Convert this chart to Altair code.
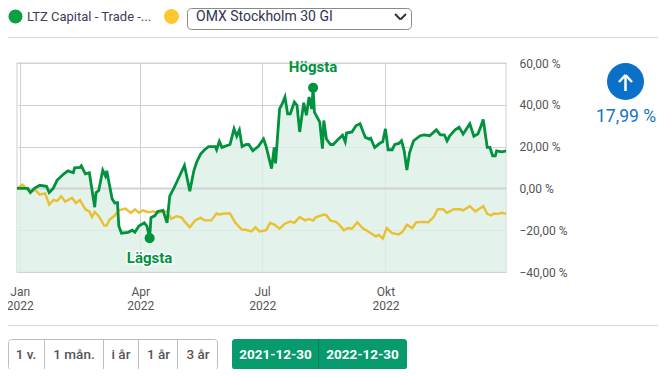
import altair as alt
import pandas as pd

# Day offsets from 2021-12-30 and percentage values
green_days = [0,8,10,13,17,22,24,27,30,35,38,42,43,47,48,51,54,58,59,61,64,66,67,71,73,75,76,78,83,86,88,91,95,97,99,100,103,105,109,112,114,117,119,125,129,132,134,137,140,143,148,149,151,153,159,162,164,166,168,171,173,
              174,176,180,184,186,190,192,193,196,198,200,202,204,207,209,211,214,216,218,220,221,222,226,228,229,231,234,236,240,243,245,246,250,253,256,260,263,264,267,271,273,275,277,280,282,285,287,289,291,293,296,301,304,308,313,316,319,321,323,327,330,333,338,341,344,346,348,351,353,355,357,358,362,365]
green_vals = [0,0,-2,0,1.5,1,-2,0,4,7,8.4,7.5,9.8,10,10.8,7,7.5,-9,-2,-1,8.7,6,8.4,-5,-7,-6.8,-18,-21.4,-21,-20,-21,-18,-16.5,-18,-23.8,-14,-13,-11,-10.5,-16.5,-3.7,0,2.7,11,-1.3,8.4,12.4,16.4,18.5,20,20,18.5,22.5,19.6,21,28.5,25,28,20,21,21,
              20,18,20,23.6,20,9.5,19.6,12,38,40.5,43.7,35.7,35.7,41.3,39.7,27,41,35,43.7,38,48.2,36.5,31.7,19,32.5,23.6,21,21,23.6,25.5,22.3,26.5,27,30,31,24.4,23.6,24,19.6,21.7,22.3,28.5,18.5,18.5,21,21.5,22.8,18,8.8,17,22.8,25.2,25.6,25.2,28,25.6,25.6,22.8,25.2,28,29.3,26,30.9,25,26,29.3,33,19.6,19.6,15.6,15.6,18,17.5,17.99]
yellow_days = [0,4,7,10,13,17,21,24,27,30,33,36,41,44,47,51,54,56,58,61,65,67,69,73,76,81,85,88,91,94,98,102,105,112,115,119,123,125,129,133,137,140,145,149,151,155,159,163,168,171,175,178,
               181,186,189,192,196,200,204,207,211,215,218,221,223,229,231,234,238,241,244,247,250,254,258,263,268,270,273,276,280,285,288,291,295,298,303,307,311,314,318,321,326,331,333,338,342,348,351,354,356,359,362,365]
yellow_vals = [0,1.8,0,-2,-0.5,-3,-2.4,-7.7,-5.6,-6,-3.7,-6.4,-4.5,-7,-5.6,-10,-11,-13.7,-11.3,-13.3,-17.7,-17.8,-15,-12.9,-10.5,-9.6,-11.7,-10,-11.7,-10.5,-11.4,-11,-11.7,-11,-14.6,-13.3,-14,-15.8,-18.6,-15.3,-14,-15.3,-15.3,-12,-12.5,-12,-12,-16.5,-19.8,-19.8,-20.6,-18.6,
               -20.6,-20,-16.5,-17.3,-19.3,-16.9,-15.8,-16.5,-13.7,-15.3,-14.6,-15.4,-13.8,-12.5,-12.9,-15.4,-16,-17.7,-20,-19,-19.3,-16.2,-19,-21,-23,-22.2,-24,-19,-21.4,-22,-20.6,-17.4,-19,-16.2,-16,-16.2,-13.7,-10,-10,-11.7,-10,-10,-10.5,-8.5,-11,-8.5,-12.2,-12.9,-12,-12.2,-11.7,-12.2]
extreme_labels = ["Lägsta", "Högsta"]
extreme_days = [99, 221]
extreme_vals = [-23.8, 48.2]
y_ticks = [-40, -20, 0, 20, 40, 60]
ranges = [("1 v.", 26), ("1 mån.", 74), ("i år", 121), ("1 år", 158.5), ("3 år", 198)]

start = pd.Timestamp("2021-12-30")
iso = lambda d: (start + pd.Timedelta(days=d)).strftime("%Y-%m-%d")
green = pd.DataFrame({"date": [iso(d) for d in green_days], "v": green_vals})
yellow = pd.DataFrame({"date": [iso(d) for d in yellow_days], "v": yellow_vals})
extremes = pd.DataFrame({"date": [iso(d) for d in extreme_days], "v": extreme_vals, "label": extreme_labels})

PAD_L, PAD_T, W, H = 9, 55, 489, 209
FONT = "Roboto"
GREEN, YELLOW = "#00923f", "#e8c031"
GREY = "#555555"

def dt(y, m, d):
    return alt.DateTime(year=y, month=m, date=d, utc=True)

xscale = alt.Scale(type="utc", domain=[dt(2021, 12, 30), dt(2022, 12, 30)])
yscale = alt.Scale(domain=[-40, 60], nice=False)
xaxis = alt.Axis(
    values=[dt(2022, 1, 1), dt(2022, 4, 1), dt(2022, 7, 1), dt(2022, 10, 1)],
    title=None, grid=True, gridColor="#d2d2d2", domain=False, ticks=False,
    labelExpr="[{0:'Jan',3:'Apr',6:'Jul',9:'Okt'}[utcmonth(datum.value)], '2022']",
    labelFont=FONT, labelFontSize=12, labelColor=GREY, labelPadding=14,
    labelLineHeight=14, labelBaseline="top", labelAlign="center", labelFlush=False, labelOverlap=False,
)
yaxis = alt.Axis(
    orient="right", values=y_ticks, title=None, grid=True, gridColor="#d2d2d2", domain=False, ticks=False,
    labelExpr="replace(format(datum.value,'.2f'),'.',',')+' %'",
    labelFont=FONT, labelFontSize=12, labelColor=GREY, labelPadding=13, labelAlign="left",
)

X = alt.X("date:T", scale=xscale, axis=xaxis)
Y = alt.Y("v:Q", scale=yscale, axis=yaxis)

blank = alt.Data(values=[{"a": 1}])
def px(v): return alt.value(v - 8 - PAD_L)
def py(v): return alt.value(v - 8 - PAD_T)
def rect(x1, y1, x2, y2, fill="transparent", stroke=None, radius=0, sw=1):
    kw = dict(fill=fill, cornerRadius=radius)
    if stroke:
        kw.update(stroke=stroke, strokeWidth=sw)
    return alt.Chart(blank).mark_rect(**kw).encode(x=px(x1), x2=px(x2), y=py(y1), y2=py(y2))
def seg(x1, y1, x2, y2, color, sw=1, cap="butt"):
    return alt.Chart(blank).mark_rule(color=color, strokeWidth=sw, strokeCap=cap).encode(x=px(x1), x2=px(x2), y=py(y1), y2=py(y2))
def text(s, x, y, size=13, color=GREY, align="center", weight="normal"):
    return alt.Chart(blank).mark_text(font=FONT, fontSize=size, color=color, align=align, baseline="middle", fontWeight=weight).encode(x=px(x), y=py(y), text=alt.value(s))
def dot(x, y, d, color):
    return alt.Chart(blank).mark_circle(size=d * d, color=color, opacity=1).encode(x=px(x), y=py(y))

area = alt.Chart(green).mark_area(fill="#dcefe5", opacity=0.8).encode(x=X, y=Y, y2=alt.datum(-40))
zero = alt.Chart(pd.DataFrame({"v": [0]})).mark_rule(color="#d2d2d2", strokeWidth=2).encode(y=Y)
yellow_line = alt.Chart(yellow).mark_line(color=YELLOW, strokeWidth=2.4).encode(x=X, y=Y)
green_line = alt.Chart(green).mark_line(color=GREEN, strokeWidth=2.8).encode(x=X, y=Y)
points = alt.Chart(extremes).mark_circle(size=100, color=GREEN, opacity=1).encode(x=X, y=Y)
low = extremes[extremes.label == "Lägsta"]
high = extremes[extremes.label == "Högsta"]
label_kw = dict(font=FONT, fontSize=15, fontWeight="bold", color=GREEN)
low_halo = alt.Chart(low).mark_text(dy=20, stroke="white", strokeWidth=3, **label_kw).encode(x=X, y=Y, text="label:N")
low_text = alt.Chart(low).mark_text(dy=20, **label_kw).encode(x=X, y=Y, text="label:N")
high_text = alt.Chart(high).mark_text(dy=-21, **label_kw).encode(x=X, y=Y, text="label:N")

chrome = [
    seg(0, 37.5, 666, 37.5, "#d8d8d8"), seg(0, 325.5, 666, 325.5, "#d8d8d8"),
    dot(15.5, 16.5, 14, "#0a9f43"),
    text("LTZ Capital - Trade -...", 27, 16.5, 13, "#3c4058", "left"),
    dot(171.5, 16.5, 15, "#ffc62f"),
    rect(187.5, 8.5, 411.5, 29.5, "white", "#8a8a8a", 4),
    text("OMX Stockholm 30 GI", 196, 16.5, 14, "#2f3350", "left"),
    seg(395, 14, 400.5, 19.5, "#333333", 2), seg(400.5, 19.5, 406, 14, "#333333", 2),
    dot(625.5, 81.5, 37, "#0a70c8"),
    seg(625.5, 75, 625.5, 91, "white", 2.5), seg(619, 82, 625.5, 75, "white", 2.5), seg(632, 82, 625.5, 75, "white", 2.5),
    text("17,99 %", 626, 116.5, 17.5, "#1272c4"),
    rect(8.5, 339.5, 217.5, 369.5, "white", "#bdbdbd", 3),
]
for xv in (44.5, 103.5, 138.5, 177.5):
    chrome.append(seg(xv, 339.5, xv, 369.5, "#bdbdbd"))
for label, xv in ranges:
    chrome.append(text(label, xv, 354.5, 13.5, "#555555", weight=500))
chrome += [
    rect(232, 339, 407, 369.5, "#079a6c", None, 3),
    seg(318.5, 339, 318.5, 369.5, "#058259"),
    text("2021-12-30", 275.5, 354.5, 13.5, "white", weight="bold"),
    text("2022-12-30", 362.5, 354.5, 13.5, "white", weight="bold"),
]

chart = alt.layer(
    area, zero, yellow_line, green_line, points, low_halo, low_text, high_text, *chrome
).properties(
    width=W, height=H,
    padding={"left": PAD_L, "top": PAD_T, "right": 152, "bottom": 97},
    autosize=alt.AutoSizeParams(type="none"),
).configure_view(stroke="#e0e0e0", strokeWidth=1.5)

chart.save("out.html", embed_options={"renderer": "svg", "actions": False})
